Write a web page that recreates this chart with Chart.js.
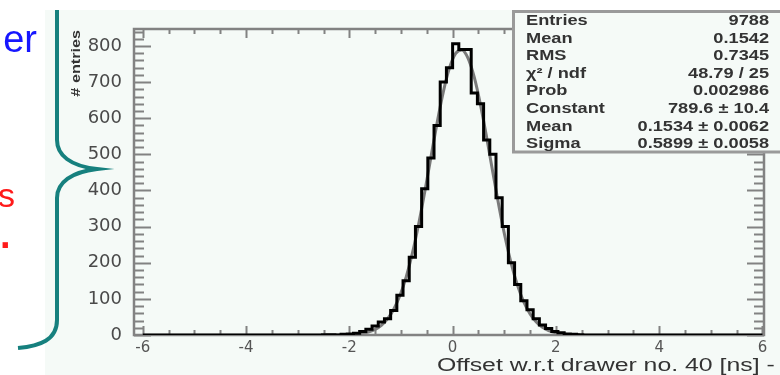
<!DOCTYPE html>
<html><head><meta charset="utf-8">
<script src="https://cdn.jsdelivr.net/npm/chart.js@4/dist/chart.umd.min.js"></script>
<style>html,body{margin:0;padding:0;background:#fff;overflow:hidden}#wrap{position:relative;width:780px;height:375px}</style>
</head><body><div id="wrap"><canvas id="c" width="780" height="375"></canvas></div>
<script>
// ---- data ----
const histLow = -6;
const binWidth = 0.12;
const histCounts = [
  0,0,0,0,0,0,0,0,0,0,
  0,0,0,0,0,0,0,0,0,0,
  0,0,0,0,0,0,0,0,0,1,
  1,0,2,3,5,10,16,25,36,45,
  68,110,150,215,300,405,490,580,700,740,
  806,790,790,670,640,540,500,380,300,200,
  140,95,70,45,28,18,10,6,3,2,
  1,0,0,0,0,0,0,0,0,0,
  0,0,0,0,0,0,0,0,0,0,
  0,0,0,0,0,0,0,0,0,0
];
const fitX = [-2.46,-2.34,-2.22,-2.10,-1.98,-1.86,-1.74,-1.62,-1.50,-1.38,-1.26,-1.14,-1.02,-0.90,-0.78,-0.66,-0.54,-0.42,-0.30,-0.18,-0.06,
  0.06,0.18,0.30,0.42,0.54,0.66,0.78,0.90,1.02,1.14,1.26,1.38,1.50,1.62,1.74,1.86,1.98,2.10,2.22,2.34,2.46];
const fitY = [0.0,0.1,0.2,0.5,1.1,2.3,4.6,8.6,15.5,26.9,44.7,71.4,109.2,160.3,225.8,305.2,395.7,492.3,587.7,673.1,739.6,
  779.7,788.8,765.6,712.9,637.0,546.1,449.1,354.5,268.4,195.0,135.9,90.9,58.3,35.9,21.2,12.0,6.5,3.4,1.7,0.8,0.4];
const xTicks = [-6,-4,-2,0,2,4,6];
const yTicks = [0,100,200,300,400,500,600,700,800];
const statsLabels = ['Entries','Mean','RMS','\u03c7\u00b2 / ndf','Prob','Constant','Mean','Sigma'];
const statsValues = ['9788','0.1542','0.7345','48.79 / 25','0.002986','789.6 \u00b1 10.4','0.1534 \u00b1 0.0062','0.5899 \u00b1 0.0058'];
const xTitle = 'Offset w.r.t drawer no. 40 [ns] -';
const yTitle = '# entries';

// ---- build points ----
const histPoints = histCounts.map((v, i) => ({x: histLow + i * binWidth, y: v}));
histPoints.push({x: histLow + histCounts.length * binWidth, y: histCounts[histCounts.length - 1]});
const fitPoints = fitX.map((x, i) => ({x: x, y: fitY[i]}));

const PAD = '#f5faf7';
const AXIS = '#828282';

function stretchText(ctx, txt, x, y, align, sx) {
  ctx.save();
  ctx.translate(x, y);
  ctx.scale(sx, 1);
  ctx.textAlign = align;
  ctx.fillText(txt, 0, 0);
  ctx.restore();
}

const decor = {
  id: 'decor',
  beforeDraw(chart) {
    const ctx = chart.ctx;
    ctx.save();
    ctx.fillStyle = '#ffffff';
    ctx.fillRect(0, 0, 780, 375);
    ctx.fillStyle = PAD;
    ctx.fillRect(45, 10, 735, 365);
    // brace
    ctx.strokeStyle = '#16807e';
    ctx.lineWidth = 4;
    ctx.beginPath();
    ctx.moveTo(57, 10);
    ctx.lineTo(57, 140);
    ctx.bezierCurveTo(57, 155, 70, 166, 97, 169);
    ctx.bezierCurveTo(72, 172, 57, 182, 57, 198);
    ctx.lineTo(57, 320);
    ctx.bezierCurveTo(57, 340, 40, 346, 18, 348);
    ctx.stroke();
    // left texts
    ctx.textBaseline = 'alphabetic';
    ctx.fillStyle = '#1616ff';
    ctx.font = '38px "Liberation Sans", Arial, sans-serif';
    ctx.textAlign = 'right';
    ctx.fillText('er', 37, 52);
    ctx.fillStyle = '#ff1a1a';
    ctx.font = '34px "Liberation Sans", Arial, sans-serif';
    ctx.fillText('s', 15, 207);
    ctx.textAlign = 'left';
    ctx.font = 'bold 38px "Liberation Sans", Arial, sans-serif';
    ctx.fillText('.', 0, 248);
    ctx.restore();
  },
  beforeDatasetsDraw(chart) {
    const ctx = chart.ctx;
    const {left, right, top, bottom} = chart.chartArea;
    const xs = chart.scales.x, ys = chart.scales.y;
    ctx.save();
    ctx.strokeStyle = AXIS;
    ctx.lineWidth = 2.5;
    ctx.strokeRect(left, top, right - left, bottom - top);
    ctx.lineWidth = 2;
    ctx.beginPath();
    for (let v = 0; v <= ys.max; v += 20) {
      const py = Math.round(ys.getPixelForValue(v)) + 0.5;
      const len = v % 100 === 0 ? 17 : 10;
      ctx.moveTo(left, py); ctx.lineTo(left + len, py);
      ctx.moveTo(right, py); ctx.lineTo(right - len, py);
    }
    for (let v = -6; v <= 6; v += 0.5) {
      const px = Math.round(xs.getPixelForValue(v)) + 0.5;
      const len = v % 2 === 0 ? 9 : 5;
      ctx.moveTo(px, bottom); ctx.lineTo(px, bottom - len);
      ctx.moveTo(px, top); ctx.lineTo(px, top + len);
    }
    ctx.stroke();
    ctx.restore();
  },
  afterDraw(chart) {
    const ctx = chart.ctx;
    ctx.save();
    // stats box
    ctx.fillStyle = PAD;
    ctx.fillRect(513, 11, 267, 141);
    ctx.strokeStyle = '#9a9a9a';
    ctx.lineWidth = 3;
    ctx.beginPath();
    ctx.moveTo(780, 11.5); ctx.lineTo(513.5, 11.5); ctx.lineTo(513.5, 152); ctx.lineTo(780, 152);
    ctx.stroke();
    ctx.fillStyle = '#333333';
    ctx.font = 'bold 14px "Liberation Sans", Arial, sans-serif';
    ctx.textBaseline = 'alphabetic';
    for (let i = 0; i < statsLabels.length; i++) {
      const by = 25 + 17.6 * i;
      stretchText(ctx, statsLabels[i], 526, by, 'left', 1.3);
      stretchText(ctx, statsValues[i], 769, by, 'right', 1.3);
    }
    // axis titles
    ctx.fillStyle = '#333333';
    ctx.font = '18px "Liberation Sans", Arial, sans-serif';
    stretchText(ctx, xTitle, 437, 371, 'left', 1.38);
    ctx.font = 'bold 12px "Liberation Sans", Arial, sans-serif';
    ctx.translate(80, 30);
    ctx.rotate(-Math.PI / 2);
    stretchText(ctx, yTitle, 0, 0, 'right', 1.35);
    ctx.restore();
  }
};

new Chart(document.getElementById('c'), {
  type: 'line',
  data: {
    datasets: [
      {label: 'histogram', data: histPoints, stepped: 'before', borderColor: '#000000', borderWidth: 3,
       pointRadius: 0, fill: false},
      {label: 'gaus fit', data: fitPoints, borderColor: '#7a7a7a', borderWidth: 3, pointRadius: 0,
       fill: false, cubicInterpolationMode: 'monotone'}
    ]
  },
  options: {
    responsive: false,
    animation: false,
    events: [],
    layout: {padding: {top: 29, right: 16, left: 0, bottom: 0}},
    plugins: {legend: {display: false}, tooltip: {enabled: false}, title: {display: false}},
    scales: {
      x: {
        type: 'linear', min: -6.17, max: 6.03,
        afterBuildTicks: s => { s.ticks = xTicks.map(v => ({value: v})); },
        afterFit: s => { s.height = 40; },
        grid: {display: false}, border: {display: false},
        ticks: {font: {family: 'DejaVu Sans', size: 15}, color: '#555555', padding: -4,
                maxRotation: 0, autoSkip: false, callback: v => String(v)}
      },
      y: {
        type: 'linear', min: 0, max: 847,
        afterBuildTicks: s => { s.ticks = yTicks.map(v => ({value: v})); },
        afterFit: s => { s.width = 134; },
        grid: {display: false}, border: {display: false},
        ticks: {font: {family: 'DejaVu Sans', size: 18}, color: '#4a4a4a', padding: 4,
                callback: v => String(v)}
      }
    }
  },
  plugins: [decor]
});
</script>
</body></html>
